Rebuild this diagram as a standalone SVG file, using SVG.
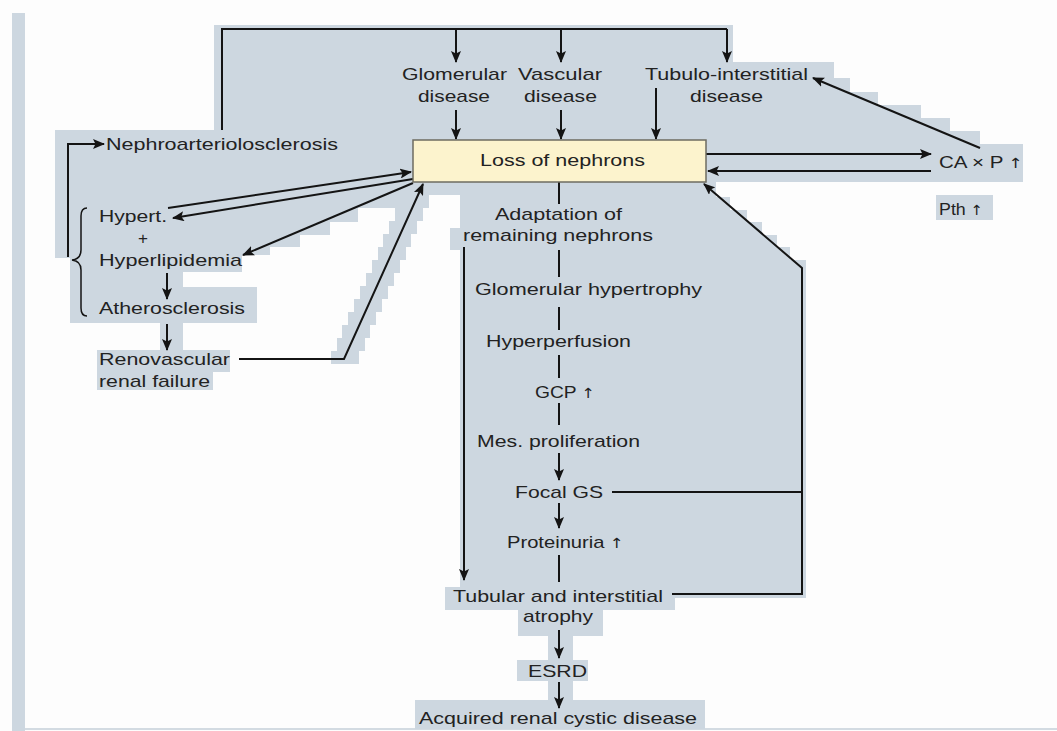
<svg xmlns="http://www.w3.org/2000/svg" width="1057" height="731" viewBox="0 0 1057 731">
<defs>
<style>
.bg{fill:#cdd7e0;stroke:none}
.t{font-family:"Liberation Sans",Arial,sans-serif;font-size:17px;fill:#222}
.ar{font-family:"DejaVu Sans",sans-serif;font-size:14px;fill:#222}
.c{fill:none;stroke:#141414;stroke-width:2}
.a{marker-end:url(#ah)}
</style>
<marker id="ah" viewBox="0 0 12 10" refX="11" refY="5" markerWidth="12" markerHeight="10" markerUnits="userSpaceOnUse" orient="auto">
<path d="M0,0 L12,5 L0,10 L2.5,5 Z" fill="#141414"/>
</marker>
</defs>
<rect width="1057" height="731" fill="#fdfdfd"/>
<rect x="12" y="13" width="13" height="718" fill="#cdd7e0"/>
<rect x="25" y="728" width="1032" height="2" fill="#d3dbe2"/>
<g id="background">
<polygon class="bg" points="214,25 733,25 733,62 834,62 834,78 850,78 850,92 878,92 878,105 921,105 921,118 950,118 950,131 980,131 980,144 1023,144 1023,182 716,182 716,197 730,197 730,210 747,210 747,222 762,222 762,235 777,235 777,247 790,247 790,260 806,260 806,598 675,598 675,610 603,610 603,636 573,636 573,660 588,660 588,681 573,681 573,700 705,700 705,729 415,729 415,700 548,700 548,681 517,681 517,660 548,660 548,636 518,636 518,610 445,610 445,587 460,587 460,250 450,250 450,228 460,228 460,195 402,195 402,208 358,208 358,222 330,222 330,235 300,235 300,247 270,247 270,255 242,255 242,272 183,272 183,287 257,287 257,323 183,323 183,350 230,350 230,372 213,372 213,390 97,390 97,350 160,350 160,323 70,323 70,258 55,258 55,130 214,130"/>
<polygon class="bg" points="331,364 359,364 359,351 365,351 365,338 370,338 370,325 376,325 376,312 382,312 382,299 388,299 388,286 394,286 394,273 400,273 400,260 406,260 406,247 411,247 411,234 417,234 417,221 423,221 423,208 429,208 429,190 395,190 395,221 389,221 389,234 383,234 383,247 378,247 378,260 372,260 372,273 366,273 366,286 360,286 360,299 354,299 354,312 348,312 348,325 342,325 342,338 337,338 337,351 331,351"/>
<rect class="bg" x="936" y="195" width="57" height="25"/>
</g>
<g id="connectors">
<path class="c" d="M222,130 V29 H727"/>
<path class="c a" d="M456,29 V62"/>
<path class="c a" d="M561,29 V62"/>
<path class="c a" d="M727,29 V62"/>
<path class="c a" d="M456,110 V139"/>
<path class="c a" d="M561,110 V139"/>
<path class="c a" d="M656,88 V139"/>
<path class="c a" d="M706,154 H931"/>
<path class="c a" d="M931,171 H708"/>
<path class="c a" d="M980,148 L813,78"/>
<path class="c a" d="M68,257 V144 H104"/>
<path class="c" style="stroke-width:1.5" d="M87,208 Q81,208 81,216 V250 Q81,259 72,260 Q81,261 81,270 V308 Q81,316 87,316"/>
<path class="c a" d="M168,208 L411,172"/>
<path class="c a" d="M413,179 L173,218"/>
<path class="c a" d="M413,183 L243,255"/>
<path class="c a" d="M167,273 V299"/>
<path class="c a" d="M167,324 V350"/>
<path class="c a" d="M239,359 H344 L423,184"/>
<path class="c" d="M559,182 V204"/>
<path class="c" d="M559,250 V277"/>
<path class="c" d="M559,307 V330"/>
<path class="c" d="M559,355 V378"/>
<path class="c" d="M559,403 V425"/>
<path class="c a" d="M559,453 V480"/>
<path class="c a" d="M559,503 V528"/>
<path class="c" d="M559,555 V582"/>
<path class="c a" d="M559,630 V658"/>
<path class="c a" d="M559,682 V708"/>
<path class="c a" d="M464,247 V580"/>
<path class="c" d="M612,492 H802"/>
<path class="c a" d="M672,594 H802 V268 L704,184"/>
</g>
<g id="loss-of-nephrons">
<rect x="413" y="140" width="293" height="42" fill="#fcf3cd" stroke="#6e6c60" stroke-width="1.5"/>
<text class="t" x="480" y="166" textLength="165" lengthAdjust="spacingAndGlyphs">Loss of nephrons</text>
</g>
<g id="glomerular-disease">
<text class="t" x="402" y="80" textLength="105" lengthAdjust="spacingAndGlyphs">Glomerular</text>
<text class="t" x="418" y="102" textLength="72" lengthAdjust="spacingAndGlyphs">disease</text>
</g>
<g id="vascular-disease">
<text class="t" x="518" y="80" textLength="84" lengthAdjust="spacingAndGlyphs">Vascular</text>
<text class="t" x="524" y="102" textLength="73" lengthAdjust="spacingAndGlyphs">disease</text>
</g>
<g id="tubulo-interstitial-disease">
<text class="t" x="645" y="80" textLength="163" lengthAdjust="spacingAndGlyphs">Tubulo-interstitial</text>
<text class="t" x="690" y="102" textLength="73" lengthAdjust="spacingAndGlyphs">disease</text>
</g>
<g id="ca-x-p">
<text class="t" x="939" y="168" textLength="84" lengthAdjust="spacingAndGlyphs">CA × P <tspan class="ar">↑</tspan></text>
</g>
<g id="pth">
<text class="t" x="939" y="215" textLength="44" lengthAdjust="spacingAndGlyphs">Pth <tspan class="ar">↑</tspan></text>
</g>
<g id="nephroarteriolosclerosis">
<text class="t" x="106" y="150" textLength="232" lengthAdjust="spacingAndGlyphs">Nephroarteriolosclerosis</text>
</g>
<g id="hypert">
<text class="t" x="99" y="222" textLength="68" lengthAdjust="spacingAndGlyphs">Hypert.</text>
<text class="t" x="143" y="244" text-anchor="middle">+</text>
</g>
<g id="hyperlipidemia">
<text class="t" x="99" y="266" textLength="143" lengthAdjust="spacingAndGlyphs">Hyperlipidemia</text>
</g>
<g id="atherosclerosis">
<text class="t" x="99" y="314" textLength="146" lengthAdjust="spacingAndGlyphs">Atherosclerosis</text>
</g>
<g id="renovascular-renal-failure">
<text class="t" x="99" y="365" textLength="131" lengthAdjust="spacingAndGlyphs">Renovascular</text>
<text class="t" x="99" y="387" textLength="111" lengthAdjust="spacingAndGlyphs">renal failure</text>
</g>
<g id="adaptation">
<text class="t" x="495" y="220" textLength="127" lengthAdjust="spacingAndGlyphs">Adaptation of</text>
<text class="t" x="463" y="241" textLength="190" lengthAdjust="spacingAndGlyphs">remaining nephrons</text>
</g>
<g id="glomerular-hypertrophy">
<text class="t" x="475" y="295" textLength="227" lengthAdjust="spacingAndGlyphs">Glomerular hypertrophy</text>
</g>
<g id="hyperperfusion">
<text class="t" x="486" y="347" textLength="145" lengthAdjust="spacingAndGlyphs">Hyperperfusion</text>
</g>
<g id="gcp">
<text class="t" x="535" y="398" textLength="60" lengthAdjust="spacingAndGlyphs">GCP <tspan class="ar">↑</tspan></text>
</g>
<g id="mes-proliferation">
<text class="t" x="477" y="447" textLength="163" lengthAdjust="spacingAndGlyphs">Mes. proliferation</text>
</g>
<g id="focal-gs">
<text class="t" x="515" y="498" textLength="88" lengthAdjust="spacingAndGlyphs">Focal GS</text>
</g>
<g id="proteinuria">
<text class="t" x="507" y="548" textLength="117" lengthAdjust="spacingAndGlyphs">Proteinuria <tspan class="ar">↑</tspan></text>
</g>
<g id="tubular-atrophy">
<text class="t" x="453" y="602" textLength="210" lengthAdjust="spacingAndGlyphs">Tubular and interstitial</text>
<text class="t" x="523" y="622" textLength="70" lengthAdjust="spacingAndGlyphs">atrophy</text>
</g>
<g id="esrd">
<text class="t" x="528" y="677" textLength="59" lengthAdjust="spacingAndGlyphs">ESRD</text>
</g>
<g id="acquired-renal-cystic-disease">
<text class="t" x="419" y="724" textLength="278" lengthAdjust="spacingAndGlyphs">Acquired renal cystic disease</text>
</g>
</svg>
